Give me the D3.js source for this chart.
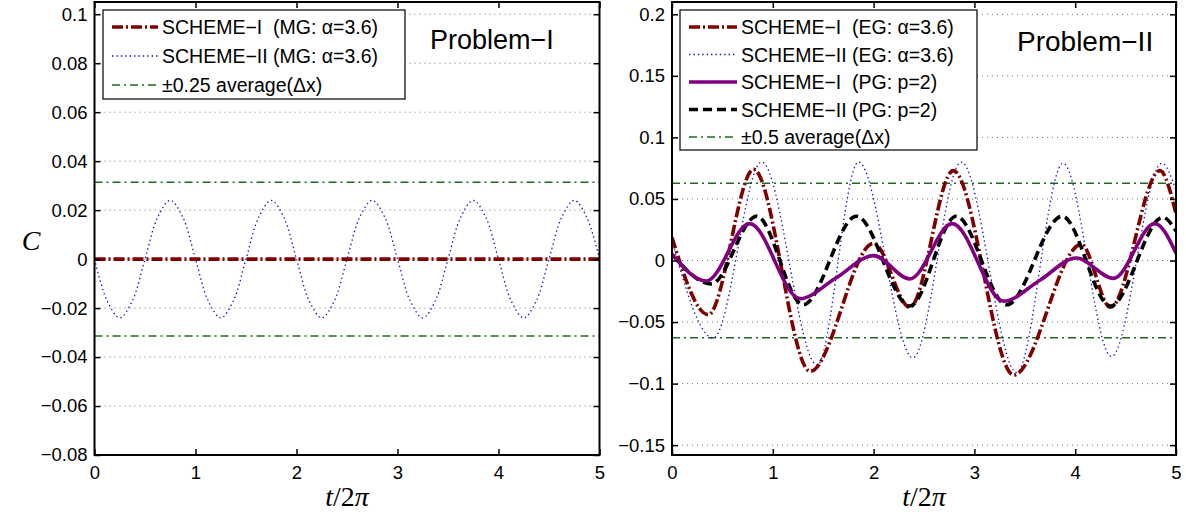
<!DOCTYPE html>
<html>
<head>
<meta charset="utf-8">
<script src="https://cdn.jsdelivr.net/npm/d3@7"></script>
<style>
  html, body { margin: 0; padding: 0; background: #fff; }
  svg { display: block; }
  text { font-family: "Liberation Sans", Arial, Helvetica, sans-serif; }
</style>
</head>
<body>
<svg id="chart" width="1186" height="520"></svg>
<script>
// ---------- data ----------
const xTicks = [0, 1, 2, 3, 4, 5];
const leftYTicks = [-0.08, -0.06, -0.04, -0.02, 0, 0.02, 0.04, 0.06, 0.08, 0.1];
const rightYTicks = [-0.15, -0.1, -0.05, 0, 0.05, 0.1, 0.15, 0.2];

// Problem I: multi-grid (MG) results, sampled every 0.125 periods
const mgT = [0, 0.125, 0.25, 0.375, 0.5, 0.625, 0.75, 0.875, 1,
  1.125, 1.25, 1.375, 1.5, 1.625, 1.75, 1.875, 2,
  2.125, 2.25, 2.375, 2.5, 2.625, 2.75, 2.875, 3,
  3.125, 3.25, 3.375, 3.5, 3.625, 3.75, 3.875, 4,
  4.125, 4.25, 4.375, 4.5, 4.625, 4.75, 4.875, 5];
const mgScheme1 = [0, 0, 0, 0, 0, 0, 0, 0, 0,
  0, 0, 0, 0, 0, 0, 0, 0,
  0, 0, 0, 0, 0, 0, 0, 0,
  0, 0, 0, 0, 0, 0, 0, 0,
  0, 0, 0, 0, 0, 0, 0, 0];
const mgScheme2 = [0, -0.017, -0.024, -0.017, 0, 0.017, 0.024, 0.017, 0,
  -0.017, -0.024, -0.017, 0, 0.017, 0.024, 0.017, 0,
  -0.017, -0.024, -0.017, 0, 0.017, 0.024, 0.017, 0,
  -0.017, -0.024, -0.017, 0, 0.017, 0.024, 0.017, 0,
  -0.017, -0.024, -0.017, 0, 0.017, 0.024, 0.017, 0];
const mgBand = 0.0314;

// Problem II: EG and PG results, read at turning points
const eg1T = [0, 0.36, 0.81, 1.37, 2.0, 2.36, 2.79, 3.39, 4.06, 4.35, 4.84, 5];
const eg1C = [0.0186, -0.044, 0.074, -0.090, 0.014, -0.038, 0.073, -0.093, 0.013, -0.038, 0.073, 0.038];
const eg2T = [0, 0.41, 0.89, 1.44, 1.85, 2.39, 2.87, 3.42, 3.88, 4.36, 4.86, 5];
const eg2C = [0.016, -0.063, 0.080, -0.085, 0.080, -0.079, 0.080, -0.091, 0.079, -0.078, 0.079, 0.057];
const pg1T = [0, 0.34, 0.77, 1.27, 1.63, 2.0, 2.36, 2.78, 3.29, 3.65, 4.01, 4.38, 4.79, 5];
const pg1C = [0.005, -0.0167, 0.030, -0.031, -0.014, 0.004, -0.015, 0.030, -0.033, -0.016, 0.002, -0.0145, 0.030, 0.006];
const pg2T = [0, 0.39, 0.84, 1.30, 1.83, 2.36, 2.82, 3.32, 3.87, 4.35, 4.87, 5];
const pg2C = [0.005, -0.019, 0.036, -0.036, 0.036, -0.037, 0.036, -0.036, 0.036, -0.037, 0.035, 0.024];
const egBand = 0.0628;

// ---------- styles ----------
const RED = "#800000", BLUE = "#1010c8", PURPLE = "#800080", GREEN = "#1e6b1e";
const styles = {
  s1:   { stroke: RED,    width: 3.6, dash: "11,3,2,3" },
  s2:   { stroke: BLUE,   width: 1.3, dash: "1.4,3" },
  pg1:  { stroke: PURPLE, width: 3.6, dash: null },
  pg2:  { stroke: "#000", width: 3.6, dash: "9,5" },
  band: { stroke: GREEN,  width: 1.4, dash: "8,4,2,4" }
};

const svg = d3.select("#chart");

function panel(opts) {
  const x = d3.scaleLinear().domain([0, 5]).range([opts.x0, opts.x1]);
  const y = d3.scaleLinear().domain(opts.yDomain).range([455, 2]);
  const g = svg.append("g");

  // dotted horizontal grid
  g.append("g").selectAll("line").data(opts.yTicks).join("line")
    .attr("x1", opts.x0).attr("x2", opts.x1)
    .attr("y1", d => y(d)).attr("y2", d => y(d))
    .attr("stroke", "#777").attr("stroke-width", 1)
    .attr("stroke-dasharray", "1,4");

  // series
  const line = d3.line().x(d => x(d[0])).y(d => y(d[1])).curve(opts.curve);
  const clipId = "clip" + opts.x0;
  svg.append("clipPath").attr("id", clipId).append("rect")
    .attr("x", opts.x0).attr("y", 2).attr("width", opts.x1 - opts.x0).attr("height", 453);
  const sg = g.append("g").attr("clip-path", `url(#${clipId})`);

  // reference band
  opts.band.forEach(v => {
    sg.append("line").attr("x1", opts.x0).attr("x2", opts.x1)
      .attr("y1", y(v)).attr("y2", y(v))
      .attr("stroke", styles.band.stroke).attr("stroke-width", styles.band.width)
      .attr("stroke-dasharray", styles.band.dash);
  });

  opts.series.forEach(s => {
    const st = styles[s.style];
    sg.append("path").datum(d3.zip(s.t, s.c))
      .attr("d", line).attr("fill", "none")
      .attr("stroke", st.stroke).attr("stroke-width", st.width)
      .attr("stroke-dasharray", st.dash);
  });

  // axes with inward ticks on all four sides
  const fmt = d3.format("~g");
  const axL = g.append("g").attr("transform", `translate(${opts.x0},0)`)
    .call(d3.axisLeft(y).tickValues(opts.yTicks).tickFormat(fmt).tickSize(-6).tickSizeOuter(0).tickPadding(7));
  const axR = g.append("g").attr("transform", `translate(${opts.x1},0)`)
    .call(d3.axisRight(y).tickValues(opts.yTicks).tickFormat("").tickSize(-6).tickSizeOuter(0));
  const axB = g.append("g").attr("transform", `translate(0,455)`)
    .call(d3.axisBottom(x).tickValues(xTicks).tickFormat(fmt).tickSize(-6).tickSizeOuter(0).tickPadding(11));
  const axT = g.append("g").attr("transform", `translate(0,2)`)
    .call(d3.axisTop(x).tickValues(xTicks).tickFormat("").tickSize(-6).tickSizeOuter(0));
  [axL, axR, axB, axT].forEach(a => {
    a.select(".domain").remove();
    a.selectAll(".tick line").attr("stroke", "#000").attr("stroke-width", 1.5);
    a.selectAll(".tick text").attr("font-size", 18.5).attr("fill", "#000")
      .attr("font-family", "'Liberation Sans', Arial, sans-serif");
  });

  // frame
  g.append("rect").attr("x", opts.x0).attr("y", 2)
    .attr("width", opts.x1 - opts.x0).attr("height", 453)
    .attr("fill", "none").attr("stroke", "#000").attr("stroke-width", 2);

  // legend
  const L = opts.legend;
  const lg = g.append("g");
  lg.append("rect").attr("x", L.x).attr("y", L.y).attr("width", L.w).attr("height", L.h)
    .attr("fill", "#fff").attr("stroke", "#000").attr("stroke-width", 1.2);
  L.items.forEach((it, i) => {
    const st = styles[it.style];
    const yy = L.y + L.first + i * L.step;
    lg.append("line").attr("x1", L.x + 9).attr("x2", L.x + 9 + L.sample)
      .attr("y1", yy).attr("y2", yy)
      .attr("stroke", st.stroke).attr("stroke-width", st.width)
      .attr("stroke-dasharray", st.dash);
    lg.append("text").attr("x", L.x + 13 + L.sample).attr("y", yy)
      .attr("dy", "0.36em").attr("font-size", 19.5).attr("fill", "#000")
      .style("white-space", "pre").text(it.label);
  });

  // panel title
  g.append("text").attr("x", opts.title.x).attr("y", opts.title.y)
    .attr("font-size", opts.title.size).attr("fill", "#000").text(opts.title.text);

  // x label
  const xl = g.append("text").attr("x", (opts.x0 + opts.x1) / 2).attr("y", 506)
    .attr("text-anchor", "middle").attr("font-size", 28)
    .style("font-family", "'Liberation Serif', 'Times New Roman', serif");
  xl.append("tspan").attr("font-style", "italic").text("t");
  xl.append("tspan").text("/2");
  xl.append("tspan").attr("font-style", "italic").text("π");
}

panel({
  x0: 94.5, x1: 599.5, yDomain: [-0.08, 0.105], yTicks: leftYTicks,
  curve: d3.curveCatmullRom,
  band: [mgBand, -mgBand],
  series: [
    { t: mgT, c: mgScheme2, style: "s2" },
    { t: mgT, c: mgScheme1, style: "s1" }
  ],
  legend: { x: 103, y: 10, w: 302, h: 89, first: 17, step: 29, sample: 46,
    items: [
      { style: "s1", label: "SCHEME\u2212I  (MG: \u03b1=3.6)" },
      { style: "s2", label: "SCHEME\u2212II (MG: \u03b1=3.6)" },
      { style: "band", label: "\u00b10.25 average(\u0394x)" }
    ] },
  title: { x: 430, y: 49, size: 27, text: "Problem\u2212I" }
});

panel({
  x0: 672, x1: 1176, yDomain: [-0.158, 0.21], yTicks: rightYTicks,
  curve: d3.curveMonotoneX,
  band: [egBand, -egBand],
  series: [
    { t: eg2T, c: eg2C, style: "s2" },
    { t: eg1T, c: eg1C, style: "s1" },
    { t: pg2T, c: pg2C, style: "pg2" },
    { t: pg1T, c: pg1C, style: "pg1" }
  ],
  legend: { x: 680, y: 10, w: 297, h: 140, first: 17, step: 27.5, sample: 48,
    items: [
      { style: "s1", label: "SCHEME\u2212I  (EG: \u03b1=3.6)" },
      { style: "s2", label: "SCHEME\u2212II (EG: \u03b1=3.6)" },
      { style: "pg1", label: "SCHEME\u2212I  (PG: p=2)" },
      { style: "pg2", label: "SCHEME\u2212II (PG: p=2)" },
      { style: "band", label: "\u00b10.5 average(\u0394x)" }
    ] },
  title: { x: 1017, y: 51, size: 28, text: "Problem\u2212II" }
});

// y-axis label
svg.append("text").attr("x", 31).attr("y", 250).attr("text-anchor", "middle")
  .attr("font-size", 28).attr("font-style", "italic")
  .style("font-family", "'Liberation Serif', 'Times New Roman', serif")
  .text("C");
</script>
</body>
</html>
